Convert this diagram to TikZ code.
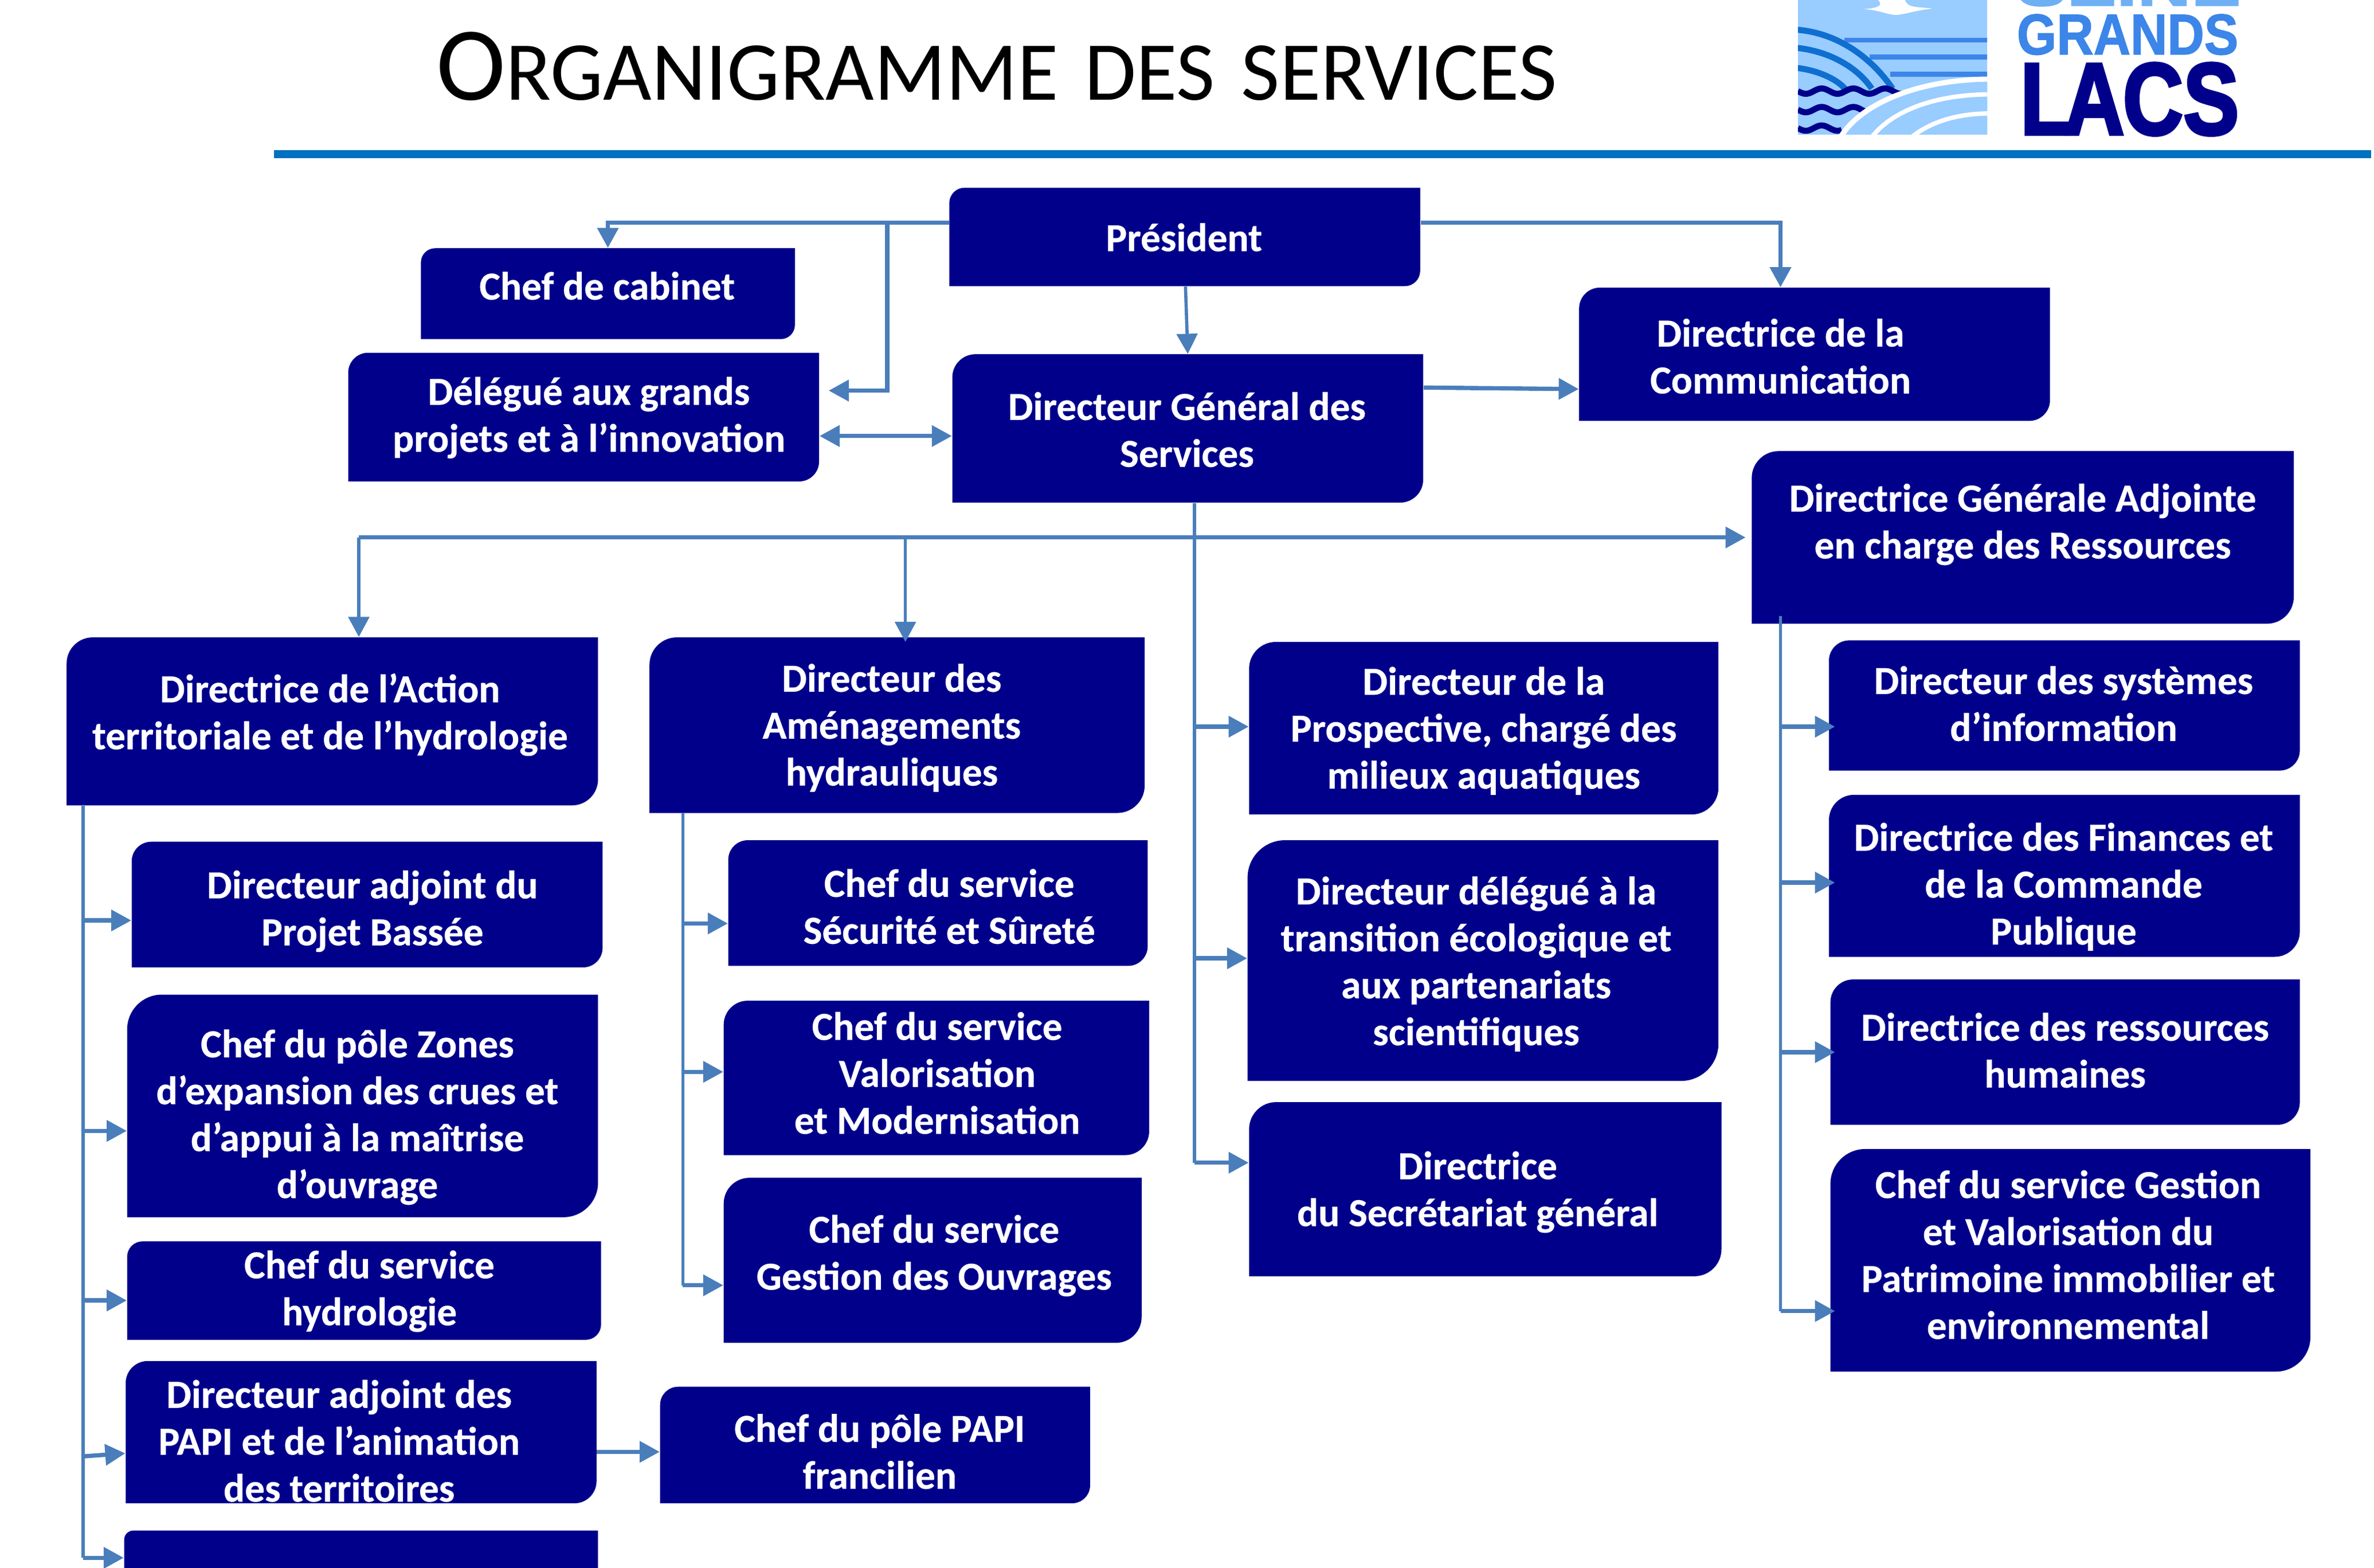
\documentclass[tikz,border=0pt]{standalone}
\usepackage{fontspec}
\usepackage{array}
\setmainfont[BoldFeatures={FakeBold=0.4}]{Carlito}
\newfontfamily\logofont[FakeBold=1.5]{Liberation Sans Bold}
\newfontfamily\logoheavy[FakeBold=3]{Liberation Sans Bold}
\usetikzlibrary{arrows.meta}
\definecolor{navybox}{HTML}{00008B}
\definecolor{linkblue}{HTML}{4A7EBB}
\definecolor{rulebar}{HTML}{0070C0}
\definecolor{logosky}{HTML}{99CCFF}
\definecolor{logobar}{HTML}{3B86E8}
\definecolor{logoarc}{HTML}{0F6FD0}
\definecolor{logoseine}{HTML}{6FB0F5}
\tikzset{
  orgtext/.style={rectangle,inner sep=0pt,text=white,font=\fontsize{19.7}{23.3}\selectfont\bfseries},
  conn/.style={draw=linkblue,line width=1.6pt},
  arrv/.style={conn,-{Triangle[length=0.35cm,width=0.36cm]}},
  arr/.style={conn,line width=2.1pt,-{Triangle[length=0.35cm,width=0.36cm]}},
  biarr/.style={conn,line width=2.1pt,{Triangle[length=0.35cm,width=0.36cm]}-{Triangle[length=0.35cm,width=0.36cm]}},
}
% \orgbox{name}{x1}{y1}{x2}{y2}{text cx}{text cy}{lines}
\newcommand\orgbox[8]{%
  \pgfmathsetmacro\bw{#4-#2}\pgfmathsetmacro\bh{#5-#3}%
  \pgfmathsetmacro\rr{0.155*min(\bw,\bh)}\pgfmathsetmacro\kk{0.45*\rr}%
  \pgfmathsetmacro\ccx{(#2+#4)/2}\pgfmathsetmacro\ccy{(#3+#5)/2}%
  \pgfmathsetmacro\ddx{(#6-\ccx)*0.026416}\pgfmathsetmacro\ddy{-(#7-\ccy)*0.026416}%
  \fill[navybox] ({#2+\rr},#3) -- (#4,#3) -- (#4,{#5-\rr})
    .. controls (#4,{#5-\kk}) and ({#4-\kk},#5) .. ({#4-\rr},#5)
    -- (#2,#5) -- (#2,{#3+\rr})
    .. controls (#2,{#3+\kk}) and ({#2+\kk},#3) .. ({#2+\rr},#3) -- cycle;
  \node[orgtext,minimum width=\bw*0.026416cm,minimum height=\bh*0.026416cm] (#1) at (\ccx,\ccy)
    {\smash{\raisebox{\dimexpr\ddy cm-7.2pt\relax}{\hspace{\ddx cm}\begin{tabular}{@{}c@{}}#8\end{tabular}\hspace{-\ddx cm}}}};%
}
\begin{document}
\begin{tikzpicture}[x=0.026416cm,y=-0.026416cm]
\useasboundingbox (0,0) rectangle (1568,1035.4);
\clip (0,0) rectangle (1568,1035.4);
\fill[white] (0,0) rectangle (1568,1035.4);
% title
\node[anchor=base west,inner sep=0pt] (title) at (288,66)
  {\fontsize{52}{52}\selectfont O\fontsize{41.6}{41.6}\selectfont RGANIGRAMME\hspace{0.09em} DES\hspace{0.09em} SERVICES};
\fill[rulebar] (181,99) rectangle (1566,104.5);
% logo, drawn in a frame 1.373 x 3 per reference pixel
\begin{scope}[shift={(1135.67,0)},x=0.0072833cm,y=-0.0033333cm]
  \begin{scope}
    \clip (188,0) rectangle (642,705);
    \fill[logosky] (188,0) rectangle (642,705);
    \fill[white] (380,0) .. controls (392,25) and (385,42) .. (345,48)
      .. controls (385,52) and (400,78) .. (425,78)
      .. controls (445,75) and (470,55) .. (510,45)
      .. controls (480,35) and (450,45) .. (445,0) -- cycle;
    \fill[logobar] (300,197) rectangle (642,222);
    \fill[logobar] (360,285) rectangle (642,312);
    \fill[logobar] (410,375) rectangle (642,402);
    \draw[logoarc,line width=3pt] (180,155) .. controls (290,170) and (370,320) .. (415,465);
    \draw[logoarc,line width=3pt] (180,250) .. controls (260,265) and (330,350) .. (365,465);
    \draw[logoarc,line width=3pt] (180,355) .. controls (230,365) and (280,410) .. (303,470);
    \draw[navybox,line width=3pt,smooth] plot[domain=188:440,samples=80] (\x,{478+14*sin((\x-188)*4.737)});
    \draw[navybox,line width=3pt,smooth] plot[domain=188:355,samples=60] (\x,{575+14*sin((\x-188)*4.737)});
    \draw[navybox,line width=3pt,smooth] plot[domain=188:293,samples=40] (\x,{672+14*sin((\x-188)*4.737)});
    \fill[logosky] (290,720) .. controls (340,540) and (480,415) .. (650,415) -- (650,720) -- cycle;
    \draw[white,line width=2.6pt] (290,720) .. controls (340,540) and (480,415) .. (650,415);
    \draw[white,line width=2.2pt] (365,720) .. controls (410,590) and (510,495) .. (650,495);
    \draw[white,line width=2.2pt] (460,720) .. controls (500,650) and (560,595) .. (650,595);
  \end{scope}
  \node[anchor=base west,inner sep=0pt,text=logoseine] (seine) at (712,30)
    {\logofont\fontsize{28.5}{28.5}\selectfont\scalebox{1.3}[1]{SEINE}};
  \node[anchor=base west,inner sep=0pt,text=logobar] (grands) at (712,285)
    {\logofont\fontsize{28.5}{28.5}\selectfont\scalebox{0.89}[1]{GRANDS}};
  \node[anchor=base west,inner sep=0pt,text=navybox] (lacs) at (720,705)
    {\logoheavy\fontsize{50.7}{50.7}\selectfont\scalebox{0.82}[1]{L\kern-0.09em A\kern-0.02em CS}};
\end{scope}
% boxes
\orgbox{pres}{627}{124}{938}{189}{782}{157}{Président}
\orgbox{cab}{278}{164}{525}{224}{401}{189}{Chef de cabinet}
\orgbox{deleg}{230}{233}{541}{318}{389}{274}{Délégué aux grands\\projets et à l’innovation}
\orgbox{dgs}{629}{234}{940}{332}{784}{284}{Directeur Général des\\Services}
\orgbox{com}{1043}{190}{1354}{278}{1176}{235.5}{Directrice de la\\Communication}
\orgbox{dga}{1157}{298}{1515}{412}{1336}{344.5}{Directrice Générale Adjointe\\en charge des Ressources}
\orgbox{action}{44}{421}{395}{532}{218}{470.5}{Directrice de l’Action\\territoriale et de l’hydrologie}
\orgbox{amen}{429}{421}{756}{537}{589}{479}{Directeur des\\Aménagements\\hydrauliques}
\orgbox{prosp}{825}{424}{1135}{538}{980}{481}{Directeur de la\\Prospective, chargé des\\milieux aquatiques}
\orgbox{si}{1208}{423}{1519}{509}{1363}{465}{Directeur des systèmes\\d’information}
\orgbox{fin}{1208}{525}{1519}{632}{1363}{584}{Directrice des Finances et\\de la Commande\\Publique}
\orgbox{rh}{1209}{647}{1519}{743}{1364}{694}{Directrice des ressources\\humaines}
\orgbox{patri}{1209}{759}{1526}{906}{1366}{829}{Chef du service Gestion\\et Valorisation du\\Patrimoine immobilier et\\environnemental}
\orgbox{transi}{824}{555}{1135}{714}{975}{635}{Directeur délégué à la\\transition écologique et\\aux partenariats\\scientifiques}
\orgbox{secr}{825}{728}{1137}{843}{976}{785.5}{Directrice\\du Secrétariat général}
\orgbox{secu}{481}{555}{758}{638}{627}{599}{Chef du service\\Sécurité et Sûreté}
\orgbox{valo}{478}{661}{759}{763}{619}{709}{Chef du service\\Valorisation\\et Modernisation}
\orgbox{ouvr}{478}{778}{754}{887}{617}{827.5}{Chef du service\\Gestion des Ouvrages}
\orgbox{bassee}{87}{556}{398}{639}{246}{600}{Directeur adjoint du\\Projet Bassée}
\orgbox{zones}{84}{657}{395}{804}{236}{736}{Chef du pôle Zones\\d’expansion des crues et\\d’appui à la maîtrise\\d’ouvrage}
\orgbox{hydro}{84}{820}{397}{885}{244}{851}{Chef du service\\hydrologie}
\orgbox{papi}{83}{899}{394}{993}{224}{952}{Directeur adjoint des\\PAPI et de l’animation\\des territoires}
\orgbox{papif}{436}{916}{720}{993}{581}{959}{Chef du pôle PAPI\\francilien}
\orgbox{last}{82}{1011}{395}{1050}{238}{1060}{}
% junctions
\coordinate (jdel) at (586,147);
\coordinate (jdown) at (789,355);
\coordinate (jleft) at (237,355);
\coordinate (jam) at (598,355);
% connectors
\draw[arr] (pres.west |- 0,147) -| (cab.north);
\draw[arr,shorten >=0.16cm] (jdel) |- (deleg.east |- 0,258);
\draw[biarr] (deleg.east |- 0,288) -- (dgs.west |- 0,288);
\draw[arrv] (pres.south -| 783,0) -- (dgs.north);
\draw[arr] (pres.east |- 0,147) -| (com.north -| 1176,0);
\draw[arr] (dgs.east |- 0,256) -- (com.west |- 0,257);
\draw[conn] (dgs.south -| 789,0) -- (789,768);
\draw[arr] (789,768) -- (secr.west |- 0,768);
\draw[arr] (789,480) -- (prosp.west |- 0,480);
\draw[arr] (789,633) -- (transi.west |- 0,633);
\draw[conn,line width=2.1pt] (jleft) -- (jdown);
\draw[arr,shorten >=0.1cm] (jdown) -- (dga.west |- 0,355);
\draw[arrv] (jleft) -- (jleft |- action.north);
\draw[arrv] (jam) -- (598,424);
% left trunk
\draw[conn] (action.south -| 55,0) -- (55,1029);
\draw[arr] (55,608) -- (bassee.west |- 0,608);
\draw[arr] (55,747) -- (zones.west |- 0,747);
\draw[arr] (55,859) -- (hydro.west |- 0,859);
\draw[arr] (55,962) -- (papi.west |- 0,960);
\draw[arr] (55,1029) -- (last.west |- 0,1029);
\draw[arr] (papi.east |- 0,959) -- (papif.west |- 0,959);
% second trunk
\draw[conn] (amen.south -| 451,0) -- (451,849);
\draw[arr] (451,610) -- (secu.west |- 0,610);
\draw[arr] (451,708) -- (valo.west |- 0,708);
\draw[arr] (451,849) -- (ouvr.west |- 0,849);
% right trunk
\draw[conn] (1176,407) -- (1176,866);
\draw[arr] (1176,480) -- (1212,480);
\draw[arr] (1176,583) -- (1212,583);
\draw[arr] (1176,695) -- (1212,695);
\draw[arr] (1176,866) -- (1212,866);
\end{tikzpicture}
\end{document}
